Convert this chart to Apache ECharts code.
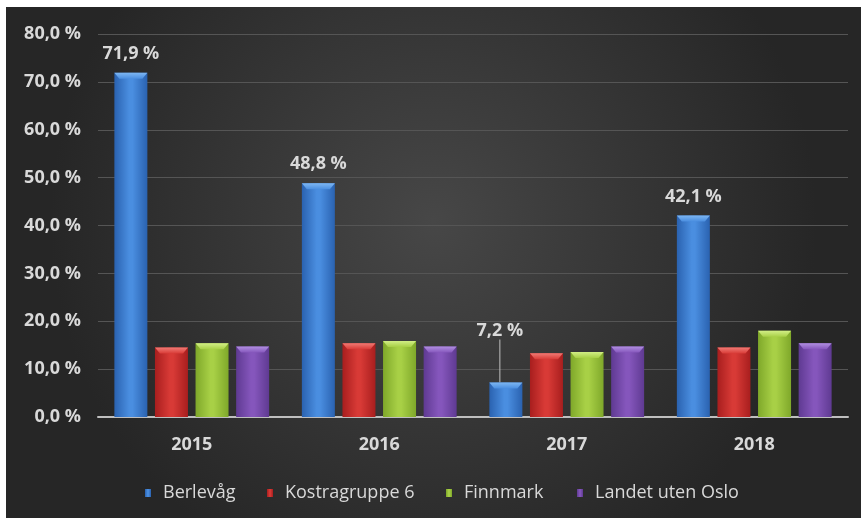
<!DOCTYPE html>
<html>
<head>
<meta charset="utf-8">
<script src="https://cdn.jsdelivr.net/npm/echarts@6/dist/echarts.min.js"></script>
<style>
  html, body { margin: 0; padding: 0; background: #ffffff; }
  #chart { position: absolute; left: 6px; top: 7px; width: 855px; height: 511px; }
</style>
</head>
<body>
<div id="chart"></div>
<script>
// Andel i prosent per år
const years = ['2015', '2016', '2017', '2018'];
const seriesNames = ['Berlevåg', 'Kostragruppe 6', 'Finnmark', 'Landet uten Oslo'];
const berlevag = [71.9, 48.8, 7.2, 42.1];
const kostragruppe6 = [14.5, 15.4, 13.3, 14.5];
const finnmark = [15.4, 15.9, 13.6, 18.0];
const landetUtenOslo = [14.7, 14.7, 14.7, 15.4];
const yTicks = [0, 10, 20, 30, 40, 50, 60, 70, 80];

const fmt = v => v.toFixed(1).replace('.', ',') + ' %';

const BAR_W = 33;
const BAR_GAP = 0.23;

// horizontal shading so each bar looks rounded
function shade(edge, mid) {
  return new echarts.graphic.LinearGradient(0, 0, 1, 0, [
    { offset: 0, color: edge },
    { offset: 0.45, color: mid },
    { offset: 0.55, color: mid },
    { offset: 1, color: edge }
  ]);
}

const labelStyle = {
  color: '#d9d9d9',
  fontFamily: 'Open Sans',
  fontWeight: 'bold',
  fontSize: 18
};

// index of the short bar whose label is lifted and tied back with a leader line
const liftedIndex = 2;

function barSeries(name, data, edge, mid, withLabels) {
  const s = {
    name: name,
    type: 'bar',
    data: data,
    barWidth: BAR_W,
    barGap: (BAR_GAP * 100) + '%',
    itemStyle: { color: shade(edge, mid) },
    emphasis: { disabled: true },
    z: 2
  };
  if (withLabels) {
    s.data = data.map((v, i) => i === liftedIndex
      ? { value: v, labelLine: { show: true, lineStyle: { color: '#bfbfbf', width: 1 } } }
      : v);
    s.label = Object.assign({
      show: true,
      position: 'top',
      distance: 10,
      formatter: p => fmt(p.value)
    }, labelStyle);
    s.labelLine = { show: false };
    s.labelLayout = p => (p.dataIndex === liftedIndex ? { dx: -6, dy: -33 } : {});
  }
  return s;
}

// bevelled light cap on top of each bar
function capSeries(slot, data, light, mid) {
  return {
    type: 'custom',
    silent: true,
    z: 3,
    data: data.map((v, i) => [i, v]),
    renderItem: (params, api) => {
      const top = api.coord([api.value(0), api.value(1)]);
      const step = BAR_W * (1 + BAR_GAP);
      const x0 = top[0] + (slot - 1.5) * step - BAR_W / 2;
      const y = top[1];
      const h = 6, inset = 5;
      return {
        type: 'polygon',
        shape: {
          points: [[x0, y], [x0 + BAR_W, y], [x0 + BAR_W - inset, y + h], [x0 + inset, y + h]]
        },
        style: {
          fill: new echarts.graphic.LinearGradient(0, 0, 0, 1, [
            { offset: 0, color: light },
            { offset: 1, color: mid }
          ])
        }
      };
    }
  };
}

// one legend block per entry so the entries sit where they belong
const legendLeft = [139, 261, 440, 571];
const legends = seriesNames.map((n, i) => ({
  left: legendLeft[i],
  top: 477,
  padding: 0,
  icon: 'rect',
  itemWidth: 6,
  itemHeight: 8,
  selectedMode: false,
  textStyle: {
    color: '#d9d9d9',
    fontFamily: 'Open Sans',
    fontSize: 18,
    padding: [0, 0, 0, 7]
  },
  data: [n]
}));

const chart = echarts.init(document.getElementById('chart'));
chart.setOption({
  backgroundColor: new echarts.graphic.RadialGradient(0.5, 0.42, 0.75, [
    { offset: 0, color: '#474747' },
    { offset: 1, color: '#262626' }
  ]),
  animation: false,
  grid: { left: 92, right: 13, top: 27, bottom: 101 },
  legend: legends,
  xAxis: {
    type: 'category',
    data: years,
    axisTick: { show: false },
    axisLine: { lineStyle: { color: '#bfbfbf', width: 2 } },
    axisLabel: Object.assign({ margin: 19 }, labelStyle)
  },
  yAxis: {
    type: 'value',
    min: yTicks[0],
    max: yTicks[yTicks.length - 1],
    interval: 10,
    axisLine: { show: false },
    axisTick: { show: false },
    splitLine: { lineStyle: { color: '#555555', width: 1 } },
    axisLabel: Object.assign({ margin: 17, formatter: v => fmt(v) }, labelStyle)
  },
  series: [
    barSeries(seriesNames[0], berlevag, '#2a62b0', '#4a8ee0', true),
    barSeries(seriesNames[1], kostragruppe6, '#a81e1e', '#d83a36', false),
    barSeries(seriesNames[2], finnmark, '#7fa82a', '#a8d046', false),
    barSeries(seriesNames[3], landetUtenOslo, '#5f3a92', '#8556bc', false),
    capSeries(0, berlevag, '#7db6f2', '#4a8ee0'),
    capSeries(1, kostragruppe6, '#f07a74', '#d83a36'),
    capSeries(2, finnmark, '#d2ee86', '#a8d046'),
    capSeries(3, landetUtenOslo, '#b08ee0', '#8556bc')
  ]
});
</script>
</body>
</html>
